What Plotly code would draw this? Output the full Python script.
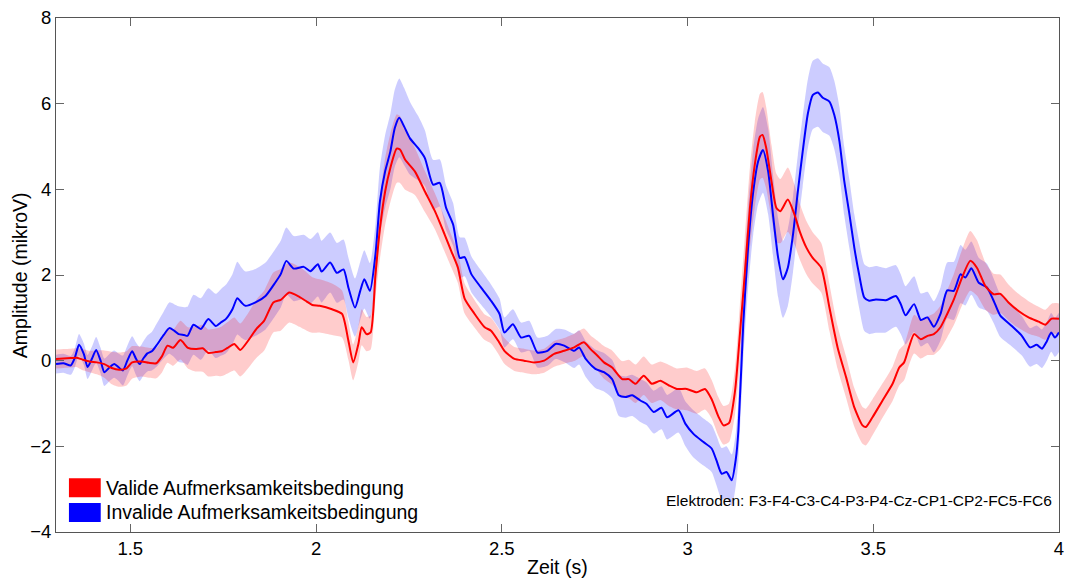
import plotly.graph_objects as go

# ---- ERP averages (time in s, amplitude in microvolt, error = half band width) ----
red_t = [1.300, 1.320, 1.340, 1.355, 1.370, 1.390, 1.410, 1.430, 1.450, 1.470,
         1.490, 1.505, 1.530, 1.550, 1.570, 1.585, 1.600, 1.615, 1.635, 1.655,
         1.675, 1.695, 1.710, 1.730, 1.746, 1.762, 1.780, 1.796, 1.820, 1.840,
         1.860, 1.885, 1.905, 1.928, 1.955, 1.975, 1.990, 2.010, 2.043, 2.070,
         2.087, 2.100, 2.114, 2.123, 2.136, 2.147, 2.160, 2.172, 2.186, 2.200,
         2.217, 2.226, 2.240, 2.266, 2.293, 2.320, 2.346, 2.364, 2.382, 2.400,
         2.427, 2.454, 2.471, 2.490, 2.507, 2.534, 2.560, 2.587, 2.614, 2.641,
         2.668, 2.695, 2.721, 2.739, 2.757, 2.775, 2.797, 2.824, 2.842, 2.860,
         2.882, 2.904, 2.927, 2.950, 2.971, 2.998, 3.025, 3.047, 3.065, 3.083,
         3.097, 3.112, 3.128, 3.141, 3.154, 3.168, 3.181, 3.195, 3.202, 3.212,
         3.226, 3.239, 3.250, 3.270, 3.288, 3.302, 3.320, 3.337, 3.360, 3.382,
         3.404, 3.427, 3.449, 3.471, 3.480, 3.498, 3.525, 3.552, 3.570, 3.583,
         3.596, 3.610, 3.628, 3.646, 3.663, 3.681, 3.699, 3.717, 3.739, 3.761,
         3.779, 3.802, 3.824, 3.842, 3.864, 3.891, 3.918, 3.945, 3.963, 3.980, 4.000]

red_mean = [0.04, 0.05, 0.06, 0.07, 0.03, -0.02, -0.04, -0.08, -0.17, -0.21,
            -0.18, -0.04, -0.02, -0.05, -0.06, 0.10, 0.35, 0.30, 0.48, 0.30,
            0.27, 0.29, 0.18, 0.20, 0.22, 0.30, 0.39, 0.25, 0.50, 0.75,
            0.93, 1.36, 1.42, 1.59, 1.49, 1.38, 1.30, 1.28, 1.20, 1.09,
            0.47, -0.04, 0.39, 0.78, 0.62, 0.66, 2.01, 3.08, 3.95, 4.50,
            4.95, 4.93, 4.69, 4.42, 3.95, 3.49, 2.95, 2.56, 2.17, 1.45,
            1.09, 0.78, 0.70, 0.47, 0.23, 0.04, 0.00, -0.04, 0.00, 0.16,
            0.23, 0.31, 0.43, 0.27, 0.12, -0.04, -0.16, -0.43, -0.43, -0.54,
            -0.35, -0.54, -0.47, -0.58, -0.66, -0.66, -0.74, -0.66, -0.90, -1.30,
            -1.51, -1.45, -0.70, 0.62, 2.01, 3.57, 4.57, 5.23, 5.27, 4.96,
            4.19, 3.57, 3.49, 3.76, 3.41, 3.02, 2.64, 2.40, 2.17, 1.24,
            0.31, -0.39, -1.09, -1.51, -1.55, -1.32, -0.93, -0.54, -0.16, -0.04,
            0.31, 0.62, 0.50, 0.58, 0.62, 0.78, 1.09, 1.43, 1.94, 2.33,
            2.17, 1.74, 1.55, 1.56, 1.36, 1.16, 1.01, 0.91, 0.84, 0.98, 0.98]

red_err = [0.22, 0.22, 0.22, 0.22, 0.25, 0.25, 0.28, 0.32, 0.38, 0.40,
           0.40, 0.38, 0.35, 0.35, 0.35, 0.38, 0.40, 0.42, 0.45, 0.48,
           0.52, 0.55, 0.55, 0.55, 0.58, 0.60, 0.62, 0.62, 0.65, 0.68,
           0.70, 0.70, 0.72, 0.70, 0.70, 0.68, 0.65, 0.62, 0.60, 0.55,
           0.45, 0.42, 0.42, 0.42, 0.40, 0.40, 0.55, 0.70, 0.78, 0.80,
           0.80, 0.78, 0.70, 0.55, 0.48, 0.42, 0.40, 0.38, 0.36, 0.35,
           0.32, 0.30, 0.30, 0.30, 0.30, 0.28, 0.28, 0.28, 0.28, 0.30,
           0.30, 0.32, 0.32, 0.32, 0.35, 0.38, 0.40, 0.42, 0.45, 0.45,
           0.45, 0.45, 0.45, 0.48, 0.48, 0.50, 0.50, 0.48, 0.45, 0.45,
           0.45, 0.45, 0.55, 0.70, 0.85, 0.95, 1.00, 1.00, 1.00, 0.95,
           0.85, 0.80, 0.75, 0.75, 0.70, 0.65, 0.62, 0.60, 0.58, 0.55,
           0.50, 0.48, 0.45, 0.43, 0.43, 0.42, 0.40, 0.40, 0.42, 0.42,
           0.42, 0.45, 0.45, 0.45, 0.48, 0.50, 0.55, 0.60, 0.65, 0.70,
           0.65, 0.55, 0.48, 0.45, 0.42, 0.40, 0.38, 0.35, 0.35, 0.35, 0.35]

blue_t = [1.300, 1.320, 1.340, 1.350, 1.362, 1.375, 1.385, 1.397, 1.408, 1.420,
          1.430, 1.445, 1.457, 1.468, 1.480, 1.492, 1.505, 1.515, 1.525, 1.535,
          1.546, 1.558, 1.570, 1.590, 1.605, 1.618, 1.630, 1.645, 1.654, 1.670,
          1.690, 1.710, 1.730, 1.745, 1.757, 1.775, 1.788, 1.800, 1.810, 1.837,
          1.864, 1.890, 1.905, 1.920, 1.940, 1.967, 1.985, 2.005, 2.015, 2.038,
          2.056, 2.074, 2.087, 2.105, 2.119, 2.130, 2.145, 2.160, 2.172, 2.186,
          2.200, 2.212, 2.224, 2.237, 2.253, 2.275, 2.293, 2.315, 2.333, 2.350,
          2.369, 2.387, 2.400, 2.418, 2.444, 2.471, 2.494, 2.507, 2.530, 2.552,
          2.574, 2.596, 2.623, 2.645, 2.668, 2.695, 2.708, 2.726, 2.752, 2.775,
          2.797, 2.815, 2.833, 2.851, 2.873, 2.890, 2.909, 2.930, 2.945, 2.976,
          2.994, 3.016, 3.043, 3.065, 3.078, 3.092, 3.105, 3.119, 3.130, 3.137,
          3.150, 3.163, 3.177, 3.190, 3.203, 3.217, 3.230, 3.244, 3.257, 3.270,
          3.284, 3.297, 3.310, 3.324, 3.337, 3.351, 3.364, 3.382, 3.395, 3.409,
          3.422, 3.436, 3.449, 3.462, 3.476, 3.489, 3.507, 3.534, 3.561, 3.574,
          3.587, 3.610, 3.628, 3.646, 3.663, 3.681, 3.699, 3.717, 3.735, 3.748,
          3.764, 3.784, 3.806, 3.824, 3.842, 3.873, 3.900, 3.922, 3.940, 3.954,
          3.967, 3.979, 3.989, 4.000]

blue_mean = [-0.08, -0.06, -0.11, 0.05, 0.37, 0.15, -0.15, 0.05, 0.25, 0.00,
             -0.27, -0.15, -0.08, -0.15, -0.23, 0.00, 0.22, 0.05, -0.08, 0.05,
             0.17, 0.22, 0.35, 0.60, 0.76, 0.70, 0.62, 0.60, 0.58, 0.84,
             0.74, 0.97, 0.81, 0.90, 0.97, 1.20, 1.46, 1.35, 1.28, 1.36,
             1.51, 1.82, 2.02, 2.33, 2.15, 2.19, 2.09, 2.25, 2.08, 2.29,
             2.05, 2.13, 1.71, 1.24, 1.63, 1.90, 1.63, 2.48, 3.72, 4.42,
             4.88, 5.43, 5.67, 5.47, 5.19, 4.96, 4.73, 4.11, 4.15, 3.57,
             3.18, 2.40, 2.42, 2.02, 1.71, 1.40, 1.09, 0.66, 0.85, 0.54,
             0.58, 0.19, 0.23, 0.39, 0.35, 0.23, 0.31, 0.04, -0.19, -0.27,
             -0.43, -0.81, -0.85, -0.81, -0.93, -1.01, -1.20, -1.10, -1.32, -1.16,
             -1.47, -1.71, -1.90, -2.05, -2.33, -2.64, -2.60, -2.79, -2.30, -1.63,
             0.85, 2.64, 3.95, 4.65, 4.92, 4.42, 3.41, 2.40, 1.90, 2.17,
             2.95, 3.95, 4.88, 5.77, 6.20, 6.26, 6.14, 6.05, 5.74, 5.12,
             4.19, 3.41, 2.64, 2.01, 1.47, 1.40, 1.43, 1.41, 1.51, 1.32,
             1.06, 1.32, 0.95, 1.01, 0.79, 1.09, 1.64, 1.63, 2.02, 1.94,
             2.16, 1.82, 1.71, 1.40, 1.05, 0.81, 0.58, 0.31, 0.37, 0.28,
             0.45, 0.66, 0.54, 0.66]

blue_err = [0.22, 0.22, 0.22, 0.22, 0.25, 0.25, 0.28, 0.28, 0.30, 0.30,
            0.32, 0.32, 0.32, 0.32, 0.35, 0.35, 0.35, 0.38, 0.40, 0.40,
            0.42, 0.45, 0.50, 0.55, 0.60, 0.62, 0.65, 0.65, 0.68, 0.70,
            0.72, 0.72, 0.75, 0.78, 0.80, 0.82, 0.85, 0.82, 0.80, 0.78,
            0.78, 0.78, 0.78, 0.78, 0.76, 0.75, 0.75, 0.75, 0.72, 0.70,
            0.70, 0.70, 0.70, 0.68, 0.68, 0.68, 0.65, 0.70, 0.80, 0.85,
            0.88, 0.90, 0.92, 0.90, 0.85, 0.75, 0.65, 0.58, 0.55, 0.52,
            0.50, 0.48, 0.45, 0.42, 0.40, 0.38, 0.36, 0.35, 0.35, 0.35,
            0.35, 0.35, 0.35, 0.35, 0.38, 0.40, 0.40, 0.42, 0.45, 0.45,
            0.45, 0.48, 0.48, 0.48, 0.50, 0.50, 0.50, 0.50, 0.52, 0.52,
            0.52, 0.55, 0.55, 0.55, 0.58, 0.60, 0.60, 0.60, 0.62, 0.70,
            0.85, 0.95, 1.00, 1.00, 1.00, 1.00, 0.95, 0.92, 0.90, 0.90,
            0.88, 0.85, 0.82, 0.80, 0.80, 0.80, 0.80, 0.80, 0.80, 0.80,
            0.80, 0.80, 0.78, 0.78, 0.78, 0.78, 0.78, 0.75, 0.72, 0.70,
            0.68, 0.65, 0.62, 0.60, 0.60, 0.62, 0.65, 0.68, 0.68, 0.65,
            0.62, 0.58, 0.55, 0.52, 0.50, 0.48, 0.46, 0.45, 0.45, 0.45,
            0.45, 0.45, 0.45, 0.45]

series_names = ["Valide Aufmerksamkeitsbedingung", "Invalide Aufmerksamkeitsbedingung"]
x_ticks = [1.5, 2, 2.5, 3, 3.5, 4]
x_tick_text = ["1.5", "2", "2.5", "3", "3.5", "4"]
y_ticks = [-4, -2, 0, 2, 4, 6, 8]
x_title = "Zeit (s)"
y_title = "Amplitude (mikroV)"
electrodes = "Elektroden: F3-F4-C3-C4-P3-P4-Cz-CP1-CP2-FC5-FC6"

assert len(red_t) == len(red_mean) == len(red_err)
assert len(blue_t) == len(blue_mean) == len(blue_err)

FONT = "Arial, Liberation Sans, sans-serif"
RED, BLUE = "#ff0000", "#0000ff"
RED_FILL, BLUE_FILL = "rgba(255,0,0,0.2)", "rgba(0,0,255,0.2)"
SMOOTH = 0.6


def band(t, m, e, fill):
    upper = [a + b for a, b in zip(m, e)]
    lower = [a - b for a, b in zip(m, e)]
    return go.Scatter(x=list(t) + list(t[::-1]), y=upper + lower[::-1],
                      fill="toself", fillcolor=fill,
                      line=dict(width=0, shape="spline", smoothing=SMOOTH),
                      mode="lines", hoverinfo="skip", showlegend=False)


fig = go.Figure()
fig.add_trace(band(blue_t, blue_mean, blue_err, BLUE_FILL))
fig.add_trace(band(red_t, red_mean, red_err, RED_FILL))
fig.add_trace(go.Scatter(x=blue_t, y=blue_mean, mode="lines", name=series_names[1],
                         line=dict(color=BLUE, width=2, shape="spline", smoothing=SMOOTH),
                         showlegend=False))
fig.add_trace(go.Scatter(x=red_t, y=red_mean, mode="lines", name=series_names[0],
                         line=dict(color=RED, width=2, shape="spline", smoothing=SMOOTH),
                         showlegend=False))

# legend swatches and labels (bottom-left)
swatches = [(RED, 0.1047, 0.0678, 0.0862), (BLUE, 0.0562, 0.0194, 0.0388)]
for (col, y1, y0, yc), label in zip(swatches, series_names):
    fig.add_shape(type="rect", xref="paper", yref="paper",
                  x0=0.0129, x1=0.0446, y0=y0, y1=y1,
                  fillcolor=col, line=dict(width=0))
    fig.add_annotation(x=0.0476, y=yc, xref="paper", yref="paper",
                       xanchor="left", yanchor="middle", showarrow=False,
                       text=label, font=dict(family=FONT, size=19.5, color="black"))

fig.add_annotation(x=0.9955, y=0.062, xref="paper", yref="paper",
                   xanchor="right", yanchor="middle", showarrow=False,
                   text=electrodes, font=dict(family=FONT, size=15.5, color="black"))

# axis titles
fig.add_annotation(x=0.5, y=-0.0678, xref="paper", yref="paper",
                   xanchor="center", yanchor="middle", showarrow=False,
                   text=x_title, font=dict(family=FONT, size=19.5, color="black"))
fig.add_annotation(x=-0.0357, y=0.5, xref="paper", yref="paper",
                   xanchor="center", yanchor="middle", showarrow=False, textangle=-90,
                   text=y_title, font=dict(family=FONT, size=19.5, color="black"))

axis_common = dict(showgrid=False, zeroline=False, showline=True, linecolor="#555",
                   linewidth=1, mirror="ticks", ticks="inside", ticklen=8,
                   tickcolor="#666", tickfont=dict(family=FONT, size=18.5, color="black"))

fig.update_xaxes(range=[1.3, 4], tickvals=x_ticks, ticktext=x_tick_text, **axis_common)
fig.update_yaxes(range=[-4, 8], tickvals=y_ticks, **axis_common)

fig.update_layout(width=1071, height=580,
                  margin=dict(l=56, r=7, t=16, b=48),
                  plot_bgcolor="white", paper_bgcolor="white",
                  font=dict(family=FONT, color="black"))

fig.write_html("out.html")
